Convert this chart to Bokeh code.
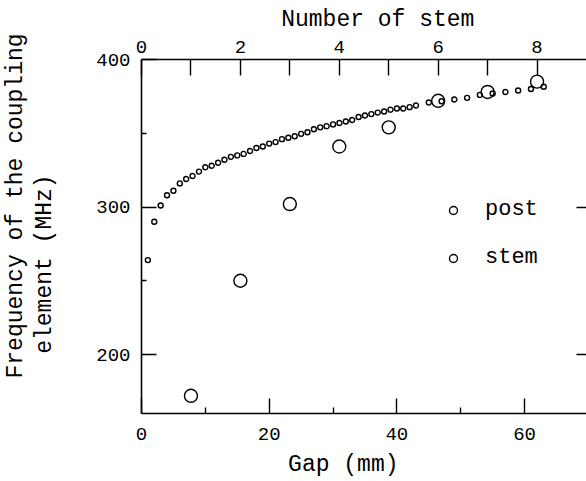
from bokeh.plotting import figure
from bokeh.models import (Range1d, LinearAxis, FixedTicker, Title, Legend, LegendItem)
from bokeh.embed import file_html
from bokeh.resources import INLINE

# ---- data ----
gap_mm = [1, 2, 3, 4, 5, 6, 7, 8, 9, 10, 11, 12, 13, 14, 15, 16, 17, 18, 19, 20,
          21, 22, 23, 24, 25, 26, 27, 28, 29, 30, 31, 32, 33, 34, 35, 36, 37, 38,
          39, 40, 41, 42, 43, 45, 47, 49, 51, 53, 55, 57, 59, 61, 63]
post_freq = [264, 290, 301, 308, 311, 316, 319, 321, 324, 327, 328, 330, 332, 334,
             335, 336, 338, 340, 341, 343, 344, 346, 347, 348, 349.6, 350.7, 352.7,
             354, 354.8, 356, 357, 358, 359, 361, 362, 363, 364, 364.7, 366, 366.8,
             366.8, 367.7, 368.8, 370.8, 371.7, 372.9, 374, 376, 377, 378, 379, 380,
             381.5]
stem_number = [1, 2, 3, 4, 5, 6, 7, 8]
stem_freq = [172, 250, 302, 341, 354, 372, 378, 385]

bottom_ticks = [0, 20, 40, 60]
bottom_minor = [10, 30, 50]
top_ticks = [0, 1, 2, 3, 4, 5, 6, 7, 8]
left_ticks = [200, 300, 400]
left_minor = [250, 350]
right_ticks = [200, 300]

FONT = "Liberation Mono"
TICK_SIZE = "19px"
TITLE_SIZE = "23px"
LEGEND_SIZE = "22px"
NB = "\u00a0"

p = figure(width=586, height=481, output_backend="svg", toolbar_location=None,
           x_range=Range1d(0, 69.7), y_range=Range1d(160, 400),
           x_axis_location=None, y_axis_location=None,
           min_border_left=141, min_border_right=0, min_border_top=59,
           min_border_bottom=68)
p.extra_x_ranges = {"stem": Range1d(0, 9)}
p.xgrid.visible = False
p.ygrid.visible = False
p.outline_line_color = None
p.background_fill_color = "white"
p.border_fill_color = "white"


def style(ax):
    ax.axis_line_color = "black"
    ax.axis_line_width = 1.6
    ax.major_tick_line_color = "black"
    ax.major_tick_line_width = 1.4
    ax.minor_tick_line_color = "black"
    ax.minor_tick_line_width = 1.4
    ax.major_label_text_font = FONT
    ax.major_label_text_font_size = TICK_SIZE
    ax.major_label_text_color = "black"
    ax.major_tick_out = 0
    ax.minor_tick_out = 0
    ax.axis_label_text_font = FONT
    ax.axis_label_text_font_size = TITLE_SIZE
    ax.axis_label_text_font_style = "normal"
    ax.axis_label_text_color = "black"


bottom = LinearAxis(ticker=FixedTicker(ticks=bottom_ticks, minor_ticks=bottom_minor),
                    axis_label="Gap (mm)" + NB * 3)
style(bottom)
bottom.major_tick_in = 15
bottom.minor_tick_in = 6
bottom.major_label_standoff = 14
bottom.axis_label_standoff = 9
p.add_layout(bottom, "below")

left = LinearAxis(ticker=FixedTicker(ticks=left_ticks, minor_ticks=left_minor),
                  axis_label="element (MHz)" + NB * 4)
style(left)
left.major_tick_in = 15
left.minor_tick_in = 5
left.major_label_standoff = 11
left.axis_label_standoff = 35
p.add_layout(left, "left")

top = LinearAxis(x_range_name="stem", ticker=FixedTicker(ticks=top_ticks),
                 axis_label=NB * 2 + "Number of stem")
style(top)
top.major_tick_in = 16
top.minor_tick_line_color = None
top.major_label_standoff = 7
top.axis_label_standoff = 5
top.major_label_overrides = {1: "", 3: "", 5: "", 7: ""}
p.add_layout(top, "above")

right = LinearAxis(ticker=FixedTicker(ticks=right_ticks))
style(right)
right.axis_line_color = None
right.major_tick_in = 10
right.minor_tick_line_color = None
right.major_label_text_font_size = "0px"
right.major_label_standoff = 0
right.major_label_overrides = {200: "", 300: ""}
p.add_layout(right, "right")

ytitle = Title(text="Frequency of the coupling", align="left", offset=35,
               standoff=0, vertical_align="middle", text_font=FONT,
               text_font_size=TITLE_SIZE, text_font_style="normal",
               text_color="black")
p.add_layout(ytitle, "left")

r_post = p.scatter(gap_mm, post_freq, size=5, marker="circle",
                   fill_color="white", line_color="black", line_width=1.4)
r_stem = p.scatter(stem_number, stem_freq, size=13, marker="circle",
                   x_range_name="stem", fill_color=None, line_color="black",
                   line_width=1.4)

legend = Legend(items=[LegendItem(label="post", renderers=[r_post]),
                       LegendItem(label="stem", renderers=[r_stem])],
                location=(302, 143), padding=0, margin=0, spacing=23,
                glyph_width=20, glyph_height=24, label_height=24,
                label_standoff=22, label_text_font=FONT,
                label_text_font_size=LEGEND_SIZE, label_text_color="black",
                border_line_color=None, background_fill_alpha=0)
p.add_layout(legend)

open("out.html", "w").write(file_html(p, INLINE))
